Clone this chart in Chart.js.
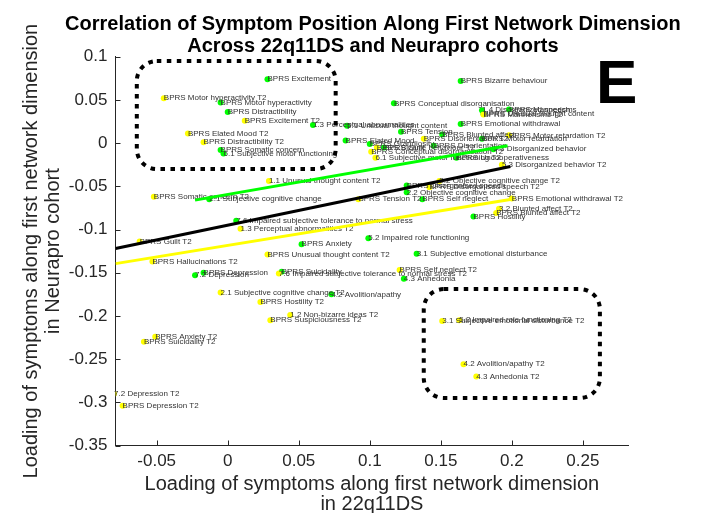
<!DOCTYPE html>
<html>
<head>
<meta charset="utf-8">
<script src="https://cdn.jsdelivr.net/npm/chart.js@4"></script>
<style>
body { margin: 0; background: #fff; }
#wrap { width: 725px; height: 513px; }
</style>
</head>
<body>
<div id="wrap"><canvas id="chart" width="725" height="513"></canvas></div>
<script>
// x = loading in 22q11DS, y = loading in Neurapro; green = baseline items, yellow = T2 items
var greenNames = [
    'BPRS Excitement', 'BPRS Motor hyperactivity', 'BPRS Distractibility',
    '1.3 Perceptual abnormalities', '5.1 Unusual thought content', 'BPRS Elated Mood',
    'BPRS Somatic concern', '6.1 Subjective motor functioning', '2.1 Subjective cognitive change',
    '7.6 Impaired subjective tolerance to normal stress', 'BPRS Anxiety', '5.2 Impaired role functioning',
    '7.2 Depression', 'BPRS Depression', 'BPRS Suicidality', '4.2 Avolition/apathy',
    'BPRS Bizarre behaviour', 'BPRS Conceptual disorganisation', '1.4 Disorganized speech',
    'BPRS Mannerisms', 'BPRS Unusual thought content', 'BPRS Emotional withdrawal',
    'BPRS Tension', 'BPRS Blunted affect', 'BPRS Motor retardation', 'BPRS Grandiosity',
    'BPRS Guilt', 'BPRS Disorientation', '5.3 Disorganized behavior', 'BPRS Uncooperativeness',
    'BPRS Disorganised speech', '2.2 Objective cognitive change', 'BPRS Self neglect',
    'BPRS Hostility', '3.1 Subjective emotional disturbance', '4.3 Anhedonia'
];
var greenX = [
    0.028, -0.005, 0.000,
    0.060, 0.084, 0.083,
    -0.005, -0.003, -0.013,
    0.006, 0.052, 0.099,
    -0.023, -0.017, 0.038, 0.073,
    0.164, 0.117, 0.179,
    0.198, 0.180, 0.164,
    0.122, 0.151, 0.179, 0.100,
    0.110, 0.145, 0.187, 0.161,
    0.126, 0.126, 0.137,
    0.173, 0.133, 0.124
];
var greenY = [
    0.074, 0.047, 0.036,
    0.021, 0.020, 0.003,
    -0.008, -0.012, -0.065,
    -0.090, -0.117, -0.110,
    -0.153, -0.150, -0.149, -0.175,
    0.072, 0.046, 0.038,
    0.039, 0.034, 0.022,
    0.013, 0.010, 0.005, -0.001,
    -0.005, -0.003, -0.007, -0.017,
    -0.049, -0.057, -0.065,
    -0.085, -0.128, -0.157
];

var yellowNames = [
    'BPRS Motor hyperactivity T2', 'BPRS Excitement T2', 'BPRS Elated Mood T2',
    'BPRS Distractibility T2', '1.1 Unusual thought content T2', 'BPRS Somatic concern T2',
    '1.3 Perceptual abnormalities T2', 'BPRS Guilt T2', 'BPRS Unusual thought content T2',
    'BPRS Hallucinations T2', '7.6 Impaired subjective tolerance to normal stress T2',
    '2.1 Subjective cognitive change T2', 'BPRS Hostility T2', '1.2 Non-bizarre ideas T2',
    'BPRS Suspiciousness T2', 'BPRS Anxiety T2', 'BPRS Suicidality T2', '7.2 Depression T2',
    'BPRS Depression T2', 'BPRS Tension T2', '2.2 Objective cognitive change T2',
    'BPRS Disorganised speech T2', 'BPRS Emotional withdrawal T2', '3.2 Blunted affect T2',
    'BPRS Blunted affect T2', 'BPRS Self neglect T2', '3.1 Subjective emotional disturbance T2',
    '5.2 Impaired role functioning T2', '4.2 Avolition/apathy T2', '4.3 Anhedonia T2',
    'BPRS Motor retardation T2', '5.3 Disorganized behavior T2', 'BPRS Mannerisms T2',
    'BPRS Disorientation T2', '6.1 Subjective motor functioning T2',
    'BPRS Bizarre behaviour T2', 'BPRS Conceptual disorganisation T2'
];
var yellowX = [
    -0.045, 0.012, -0.028,
    -0.017, 0.029, -0.052,
    0.009, -0.062, 0.028,
    -0.053, 0.036,
    -0.005, 0.023, 0.044,
    0.030, -0.051, -0.059, -0.080,
    -0.074, 0.092, 0.149,
    0.142, 0.200, 0.191,
    0.189, 0.121, 0.151,
    0.163, 0.166, 0.175,
    0.198, 0.193, 0.180,
    0.138, 0.104,
    0.105, 0.101
];
var yellowY = [
    0.052, 0.026, 0.011,
    0.001, -0.044, -0.062,
    -0.099, -0.114, -0.129,
    -0.137, -0.151,
    -0.173, -0.184, -0.199,
    -0.205, -0.224, -0.230, -0.290,
    -0.304, -0.065, -0.044,
    -0.051, -0.064, -0.076,
    -0.081, -0.147, -0.206,
    -0.205, -0.256, -0.270,
    0.009, -0.025, 0.033,
    0.005, -0.017,
    -0.005, -0.010
];

// fitted lines (end points)
var greenFitX = [-0.023, 0.197];
var greenFitY = [-0.066, -0.003];
var blackFitX = [-0.079, 0.199];
var blackFitY = [-0.122, -0.027];
var yellowFitX = [-0.079, 0.200];
var yellowFitY = [-0.1395, -0.065];

var xTicks = [-0.05, 0, 0.05, 0.1, 0.15, 0.2, 0.25];
var xTickLabels = ['-0.05', '0', '0.05', '0.1', '0.15', '0.2', '0.25'];
var yTicks = [0.1, 0.05, 0, -0.05, -0.1, -0.15, -0.2, -0.25, -0.3, -0.35];
var yTickLabels = ['0.1', '0.05', '0', '-0.05', '-0.1', '-0.15', '-0.2', '-0.25', '-0.3', '-0.35'];

// dotted highlight boxes: x0, x1, y0, y1 in data units
var boxTopLeft = [-0.064, 0.076, 0.095, -0.030];
var boxBottomRight = [0.138, 0.262, -0.169, -0.295];

function toPoints(xs, ys) {
    return xs.map(function (x, i) { return {x: x, y: ys[i]}; });
}

function roundRect(ctx, x0, y0, x1, y1, r) {
    ctx.beginPath();
    ctx.moveTo(x0 + r, y0);
    ctx.arcTo(x1, y0, x1, y1, r);
    ctx.arcTo(x1, y1, x0, y1, r);
    ctx.arcTo(x0, y1, x0, y0, r);
    ctx.arcTo(x0, y0, x1, y0, r);
    ctx.closePath();
    ctx.stroke();
}

var INK = '#262626';
var FONT = '"Liberation Sans", Arial, sans-serif';

var decor = {
    id: 'decor',
    afterDatasetDraw: function (chart, args) {
        // point labels go above the dots but under the fit lines
        if (args.index !== 4) return;
        var ctx = chart.ctx, xs = chart.scales.x, ys = chart.scales.y;
        ctx.save();
        ctx.font = '8px ' + FONT;
        ctx.fillStyle = '#333';
        ctx.textAlign = 'left';
        ctx.textBaseline = 'middle';
        greenNames.forEach(function (n, i) {
            ctx.fillText(n, xs.getPixelForValue(greenX[i]), ys.getPixelForValue(greenY[i]));
        });
        yellowNames.forEach(function (n, i) {
            ctx.fillText(n, xs.getPixelForValue(yellowX[i]), ys.getPixelForValue(yellowY[i]));
        });
        ctx.restore();
    },
    afterDraw: function (chart) {
        var ctx = chart.ctx, xs = chart.scales.x, ys = chart.scales.y, a = chart.chartArea;
        ctx.save();

        // inward tick marks
        ctx.strokeStyle = INK;
        ctx.lineWidth = 1;
        ctx.beginPath();
        xTicks.forEach(function (v) {
            var p = Math.round(xs.getPixelForValue(v)) + 0.5;
            ctx.moveTo(p, a.bottom);
            ctx.lineTo(p, a.bottom - 5);
        });
        yTicks.forEach(function (v) {
            var p = Math.round(ys.getPixelForValue(v)) + 0.5;
            ctx.moveTo(a.left, p);
            ctx.lineTo(a.left + 5, p);
        });
        ctx.stroke();

        // dotted boxes
        ctx.strokeStyle = '#000';
        ctx.lineWidth = 4;
        ctx.setLineDash([4.5, 5.5]);
        [boxTopLeft, boxBottomRight].forEach(function (b) {
            roundRect(ctx, xs.getPixelForValue(b[0]), ys.getPixelForValue(b[2]),
                xs.getPixelForValue(b[1]), ys.getPixelForValue(b[3]), 20);
        });
        ctx.setLineDash([]);

        // panel letter
        ctx.fillStyle = '#000';
        ctx.font = 'bold 62px ' + FONT;
        ctx.textAlign = 'left';
        ctx.textBaseline = 'alphabetic';
        ctx.fillText('E', 596, 103);

        // title
        var cx = (a.left + a.right) / 2;
        ctx.font = 'bold 20px ' + FONT;
        ctx.textAlign = 'center';
        ctx.fillText('Correlation of Symptom Position Along First Network Dimension', cx + 1, 30);
        ctx.fillText('Across 22q11DS and Neurapro cohorts', cx + 1, 51.5);

        // axis titles
        ctx.fillStyle = INK;
        ctx.font = '20px ' + FONT;
        ctx.textBaseline = 'middle';
        ctx.fillText('Loading of symptoms along first network dimension', cx, 484);
        ctx.fillText('in 22q11DS', cx, 504);

        var cy = (a.top + a.bottom) / 2;
        ctx.translate(31, cy);
        ctx.rotate(-Math.PI / 2);
        ctx.fillText('Loading of symptoms along first network dimension', 0, 0);
        ctx.fillText('in Neurapro cohort', 0, 22);
        ctx.restore();
    }
};

var ctx = document.getElementById('chart').getContext('2d');
new Chart(ctx, {
    type: 'scatter',
    data: {
        datasets: [
            { type: 'line', data: toPoints(greenFitX, greenFitY), borderColor: '#00ff00', borderWidth: 3, pointRadius: 0, fill: false, order: 1 },
            { type: 'line', data: toPoints(blackFitX, blackFitY), borderColor: '#000000', borderWidth: 3, pointRadius: 0, fill: false, order: 1 },
            { type: 'line', data: toPoints(yellowFitX, yellowFitY), borderColor: '#ffff00', borderWidth: 3, pointRadius: 0, fill: false, order: 1 },
            { data: toPoints(greenX, greenY), backgroundColor: '#00ff00', borderWidth: 0, pointRadius: 3, order: 3 },
            { data: toPoints(yellowX, yellowY), backgroundColor: '#ffff00', borderWidth: 0, pointRadius: 3, order: 2 }
        ]
    },
    options: {
        responsive: false,
        animation: false,
        devicePixelRatio: 1,
        events: [],
        layout: { padding: { top: 56.7, right: 96.7, left: 0, bottom: 0 } },
        plugins: { legend: { display: false }, tooltip: { enabled: false } },
        scales: {
            x: {
                type: 'linear',
                min: -0.079,
                max: 0.282,
                grid: { display: false, drawTicks: false },
                border: { display: true, color: INK, width: 1 },
                afterBuildTicks: function (s) { s.ticks = xTicks.map(function (v) { return {value: v}; }); },
                afterFit: function (s) { s.height = 67.5; },
                ticks: {
                    autoSkip: false, maxRotation: 0, padding: 6, color: INK,
                    font: { family: 'Liberation Sans', size: 17 },
                    callback: function (v) { return xTickLabels[xTicks.indexOf(v)]; }
                }
            },
            y: {
                type: 'linear',
                min: -0.35,
                max: 0.1,
                grid: { display: false, drawTicks: false },
                border: { display: true, color: INK, width: 1 },
                afterBuildTicks: function (s) { s.ticks = yTicks.map(function (v) { return {value: v}; }); },
                afterFit: function (s) { s.width = 115.5; },
                ticks: {
                    autoSkip: false, padding: 8, color: INK,
                    font: { family: 'Liberation Sans', size: 17 },
                    callback: function (v) { return yTickLabels[yTicks.indexOf(v)]; }
                }
            }
        }
    },
    plugins: [decor]
});
</script>
</body>
</html>
